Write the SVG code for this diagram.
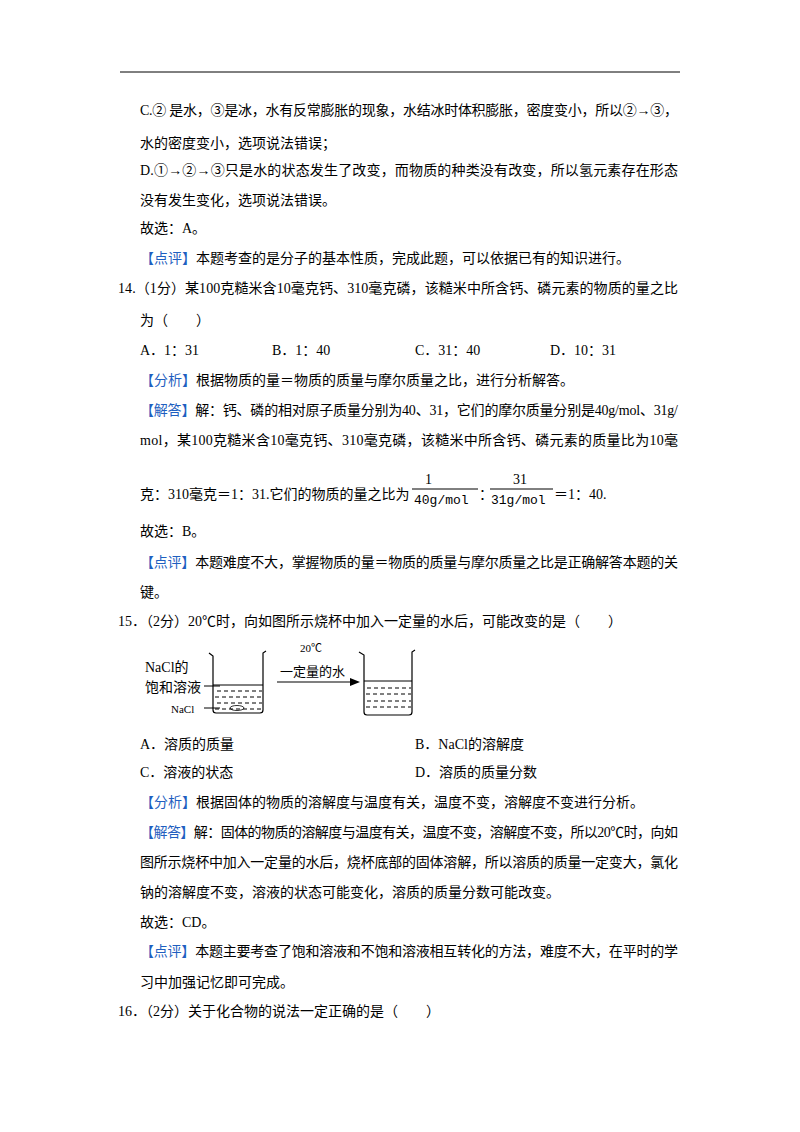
<svg xmlns="http://www.w3.org/2000/svg" width="800" height="1132" viewBox="0 0 800 1132">
<style>
text{font-family:"Liberation Serif","Noto Sans CJK SC",serif;font-size:14px;fill:#000}
.b{fill:#1f5fc0}
.s{font-size:11px}
.m{font-family:"Liberation Mono","Noto Sans CJK SC",monospace;font-size:13px}
.bk{fill:none;stroke:#000;stroke-width:1.2}
.d{stroke:#000;stroke-width:1;stroke-dasharray:4,3}
</style>
<rect width="800" height="1132" fill="#fff"/>
<line x1="120" y1="72" x2="680" y2="72" stroke="#000" stroke-width="1"/>
<g id="text">
<text x="140" y="115" textLength="538">C.② 是水，③是冰，水有反常膨胀的现象，水结冰时体积膨胀，密度变小，所以②→③，</text>
<text x="140" y="148">水的密度变小，选项说法错误；</text>
<text x="140" y="175" textLength="538">D.①→②→③只是水的状态发生了改变，而物质的种类没有改变，所以氢元素存在形态</text>
<text x="140" y="205">没有发生变化，选项说法错误。</text>
<text x="140" y="233">故选：A。</text>
<text x="140" y="263"><tspan class="b">【点评】</tspan>本题考查的是分子的基本性质，完成此题，可以依据已有的知识进行。</text>
<text x="118" y="293" textLength="560">14.（1分）某100克糙米含10毫克钙、310毫克磷，该糙米中所含钙、磷元素的物质的量之比</text>
<text x="140" y="325">为（　　）</text>
<text x="140" y="355">A．1：31</text>
<text x="272" y="355">B．1：40</text>
<text x="415" y="355">C．31：40</text>
<text x="550" y="355">D．10：31</text>
<text x="140" y="385"><tspan class="b">【分析】</tspan>根据物质的量＝物质的质量与摩尔质量之比，进行分析解答。</text>
<text x="140" y="415" textLength="538"><tspan class="b">【解答】</tspan>解：钙、磷的相对原子质量分别为40、31，它们的摩尔质量分别是40g/mol、31g/</text>
<text x="140" y="445" textLength="538">mol，某100克糙米含10毫克钙、310毫克磷，该糙米中所含钙、磷元素的质量比为10毫</text>
<text x="140" y="499">克：310毫克＝1：31.它们的物质的量之比为</text>
<text x="425" y="484">1</text>
<line x1="412" y1="489" x2="478" y2="489" stroke="#000"/>
<text x="414" y="504" class="m">40g/mol</text>
<text x="479" y="499">：</text>
<text x="513" y="484">31</text>
<line x1="490" y1="489" x2="553" y2="489" stroke="#000"/>
<text x="491" y="504" class="m">31g/mol</text>
<text x="554" y="499">＝1：40.</text>
<text x="140" y="536">故选：B。</text>
<text x="140" y="567" textLength="538"><tspan class="b">【点评】</tspan>本题难度不大，掌握物质的量＝物质的质量与摩尔质量之比是正确解答本题的关</text>
<text x="140" y="597">键。</text>
<text x="118" y="626">15．（2分）20℃时，向如图所示烧杯中加入一定量的水后，可能改变的是（　　）</text>
<text x="140" y="749">A．溶质的质量</text>
<text x="415" y="749">B．NaCl的溶解度</text>
<text x="140" y="777">C．溶液的状态</text>
<text x="415" y="777">D．溶质的质量分数</text>
<text x="140" y="807"><tspan class="b">【分析】</tspan>根据固体的物质的溶解度与温度有关，温度不变，溶解度不变进行分析。</text>
<text x="140" y="837" textLength="538"><tspan class="b">【解答】</tspan>解：固体的物质的溶解度与温度有关，温度不变，溶解度不变，所以20℃时，向如</text>
<text x="140" y="867" textLength="538">图所示烧杯中加入一定量的水后，烧杯底部的固体溶解，所以溶质的质量一定变大，氯化</text>
<text x="140" y="897">钠的溶解度不变，溶液的状态可能变化，溶质的质量分数可能改变。</text>
<text x="140" y="927">故选：CD。</text>
<text x="140" y="956" textLength="538"><tspan class="b">【点评】</tspan>本题主要考查了饱和溶液和不饱和溶液相互转化的方法，难度不大，在平时的学</text>
<text x="140" y="987">习中加强记忆即可完成。</text>
<text x="118" y="1016">16．（2分）关于化合物的说法一定正确的是（　　）</text>
</g>
<g id="beaker1">
<path class="bk" d="M209,653 L213,656 L213,710 Q213,713 216,713 L260,713 Q263,713 263,710 L263,653 L266,651"/>
<line x1="213" y1="685" x2="263" y2="685" stroke="#000"/>
<line class="d" x1="217" y1="691" x2="262" y2="691"/>
<line class="d" x1="215" y1="697" x2="262" y2="697"/>
<line class="d" x1="217" y1="703" x2="262" y2="703"/>
<line class="d" x1="215" y1="709" x2="262" y2="709"/>
<ellipse cx="237" cy="708" rx="7" ry="2.5" fill="none" stroke="#000" stroke-width="0.8"/>
</g>
<g id="labels">
<text x="145" y="672">NaCl的</text>
<text x="145" y="692">饱和溶液</text>
<text x="171" y="713" class="s">NaCl</text>
<text x="300" y="652" class="s">20℃</text>
<text x="280" y="676" style="font-family:'Noto Sans CJK SC',sans-serif;font-size:13px">一定量的水</text>
</g>
<g id="connectors">
<line x1="204" y1="686" x2="220" y2="686" stroke="#000"/>
<line x1="204" y1="708" x2="220" y2="708" stroke="#000"/>
<line x1="277" y1="682" x2="352" y2="682" stroke="#000" stroke-width="1.2"/>
<polygon points="360,682 350,678 350,686" fill="#000"/>
</g>
<g id="beaker2">
<path class="bk" d="M359,652 L364,655 L364,712 Q364,715 367,715 L409,715 Q412,715 412,712 L412,652 L415,650"/>
<line x1="364" y1="681" x2="412" y2="681" stroke="#000"/>
<line class="d" x1="367" y1="688" x2="411" y2="688"/>
<line class="d" x1="366" y1="694" x2="411" y2="694"/>
<line class="d" x1="367" y1="701" x2="411" y2="701"/>
<line class="d" x1="366" y1="707" x2="411" y2="707"/>
</g>
</svg>
